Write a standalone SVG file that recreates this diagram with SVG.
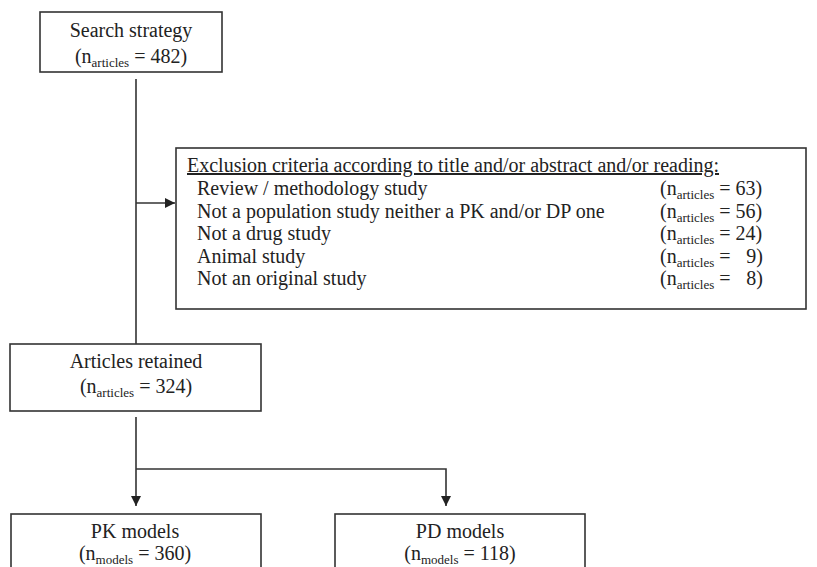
<svg xmlns="http://www.w3.org/2000/svg" width="817" height="567" viewBox="0 0 817 567">
  <style>
    .box { fill: #ffffff; stroke: #333333; stroke-width: 1.6; }
    .t { font-family: "Liberation Serif", "Times New Roman", serif; font-size: 20px; fill: #222222; }
    .c { text-anchor: middle; }
    .sub { font-size: 13px; }
    .ln { fill: none; stroke: #333333; stroke-width: 1.6; }
  </style>
  <defs>
    <marker id="arr" viewBox="0 0 10 10" refX="10" refY="5" markerWidth="10" markerHeight="10" markerUnits="userSpaceOnUse" orient="auto">
      <path d="M0,0 L10,5 L0,10 Z" fill="#222222"/>
    </marker>
  </defs>
  <rect width="817" height="567" fill="#ffffff"/>

  <g id="connectors">
    <line class="ln" x1="136" y1="79" x2="136" y2="344"/>
    <line class="ln" x1="136" y1="203" x2="175" y2="203" marker-end="url(#arr)"/>
    <line class="ln" x1="136" y1="417" x2="136" y2="506" marker-end="url(#arr)"/>
    <polyline class="ln" points="136,469 446,469 446,506" marker-end="url(#arr)"/>
  </g>

  <g id="search">
    <rect class="box" x="40" y="12" width="182" height="60"/>
    <text class="t c" x="131" y="37">Search strategy</text>
    <text class="t c" x="131" y="63">(n<tspan class="sub" dy="4">articles</tspan><tspan dy="-4"> = 482)</tspan></text>
  </g>

  <g id="exclusion">
    <rect class="box" x="176" y="148" width="630" height="161"/>
    <text class="t" x="187" y="172" text-decoration="underline">Exclusion criteria according to title and/or abstract and/or reading:</text>
    <text class="t" x="197" y="195">Review / methodology study</text>
    <text class="t" x="197" y="217.5">Not a population study neither a PK and/or DP one</text>
    <text class="t" x="197" y="240">Not a drug study</text>
    <text class="t" x="197" y="262.5">Animal study</text>
    <text class="t" x="197" y="285">Not an original study</text>
    <text class="t" x="660" y="195">(n<tspan class="sub" dy="4">articles</tspan><tspan dy="-4"> = 63)</tspan></text>
    <text class="t" x="660" y="217.5">(n<tspan class="sub" dy="4">articles</tspan><tspan dy="-4"> = 56)</tspan></text>
    <text class="t" x="660" y="240">(n<tspan class="sub" dy="4">articles</tspan><tspan dy="-4"> = 24)</tspan></text>
    <text class="t" x="660" y="262.5">(n<tspan class="sub" dy="4">articles</tspan><tspan dy="-4"> = </tspan><tspan x="763" text-anchor="end">9)</tspan></text>
    <text class="t" x="660" y="285">(n<tspan class="sub" dy="4">articles</tspan><tspan dy="-4"> = </tspan><tspan x="763" text-anchor="end">8)</tspan></text>
  </g>

  <g id="retained">
    <rect class="box" x="10" y="344" width="251" height="67"/>
    <text class="t c" x="136" y="368">Articles retained</text>
    <text class="t c" x="136" y="393">(n<tspan class="sub" dy="4">articles</tspan><tspan dy="-4"> = 324)</tspan></text>
  </g>

  <g id="pk">
    <rect class="box" x="11" y="514" width="250" height="70"/>
    <text class="t c" x="135" y="538">PK models</text>
    <text class="t c" x="135" y="560">(n<tspan class="sub" dy="4">models</tspan><tspan dy="-4"> = 360)</tspan></text>
  </g>

  <g id="pd">
    <rect class="box" x="335" y="514" width="250" height="70"/>
    <text class="t c" x="460" y="538">PD models</text>
    <text class="t c" x="460" y="560">(n<tspan class="sub" dy="4">models</tspan><tspan dy="-4"> = 118)</tspan></text>
  </g>
</svg>
